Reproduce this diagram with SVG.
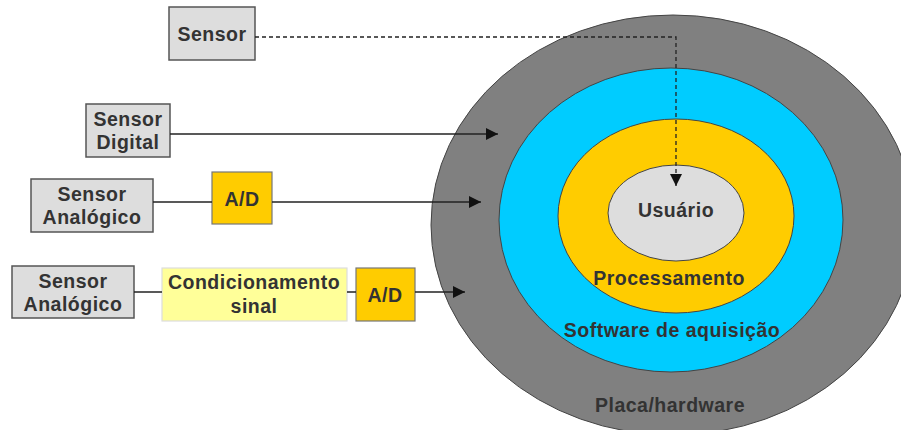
<svg xmlns="http://www.w3.org/2000/svg" width="901" height="430" viewBox="0 0 901 430">
<style>
text{font-family:"Liberation Sans",Arial,sans-serif;font-weight:bold;font-size:19.5px;letter-spacing:0.5px;fill:#333;text-anchor:middle}
.box{fill:#DDDDDD;stroke:#555;stroke-width:1.5}
.ad{fill:#FFCC00;stroke:#777;stroke-width:1.2}
.cond{fill:#FFFF99;stroke:#ddd;stroke-width:1.2}
.ring{stroke:#444;stroke-width:1}
.con{fill:none;stroke:#222;stroke-width:1.5}
.dash{fill:none;stroke:#222;stroke-width:1.3;stroke-dasharray:4 3}
</style>
<defs>
<marker id="arr" viewBox="0 0 10 10" refX="10" refY="5" markerWidth="12" markerHeight="12" markerUnits="userSpaceOnUse" orient="auto">
<path d="M0,0 L10,5 L0,10 z" fill="#111"/>
</marker>
</defs>
<rect width="901" height="430" fill="#fff"/>
<g id="placa">
<ellipse class="ring" cx="673" cy="225" rx="242" ry="210" fill="#808080"/>
<text x="670" y="412">Placa/hardware</text>
</g>
<g id="software">
<ellipse class="ring" cx="671" cy="220" rx="172" ry="152" fill="#00CCFF"/>
<text x="672" y="337">Software de aquisição</text>
</g>
<g id="processamento">
<ellipse class="ring" cx="676" cy="216" rx="118" ry="97" fill="#FFCC00"/>
<text x="669" y="285">Processamento</text>
</g>
<g id="usuario">
<ellipse class="ring" cx="676" cy="213" rx="68" ry="48" fill="#DDDDDD"/>
<text x="676" y="217">Usuário</text>
</g>
<g id="sensor">
<rect class="box" x="169" y="7" width="86" height="53"/>
<text x="212" y="41">Sensor</text>
</g>
<g id="sensor-digital">
<rect class="box" x="86" y="104" width="84" height="53"/>
<text x="128" y="126">Sensor</text>
<text x="128" y="149">Digital</text>
</g>
<g id="sensor-analogico-1">
<rect class="box" x="31" y="179" width="122" height="53"/>
<text x="92" y="201">Sensor</text>
<text x="92" y="224">Analógico</text>
</g>
<g id="ad-1">
<rect class="ad" x="212" y="172" width="60" height="52"/>
<text x="242" y="206">A/D</text>
</g>
<g id="sensor-analogico-2">
<rect class="box" x="12" y="266" width="122" height="52"/>
<text x="73" y="288">Sensor</text>
<text x="73" y="311">Analógico</text>
</g>
<g id="condicionamento">
<rect class="cond" x="162" y="268" width="185" height="53"/>
<text x="254" y="289">Condicionamento</text>
<text x="254" y="313">sinal</text>
</g>
<g id="ad-2">
<rect class="ad" x="356" y="268" width="59" height="53"/>
<text x="385" y="302">A/D</text>
</g>
<g id="connectors">
<path class="dash" d="M255,37 H676 V186" marker-end="url(#arr)"/>
<path class="con" d="M170,134 H498" marker-end="url(#arr)"/>
<path class="con" d="M153,202 H212"/>
<path class="con" d="M272,202 H481" marker-end="url(#arr)"/>
<path class="con" d="M134,292 H162"/>
<path class="con" d="M347,292 H356"/>
<path class="con" d="M415,292 H465" marker-end="url(#arr)"/>
</g>
</svg>
